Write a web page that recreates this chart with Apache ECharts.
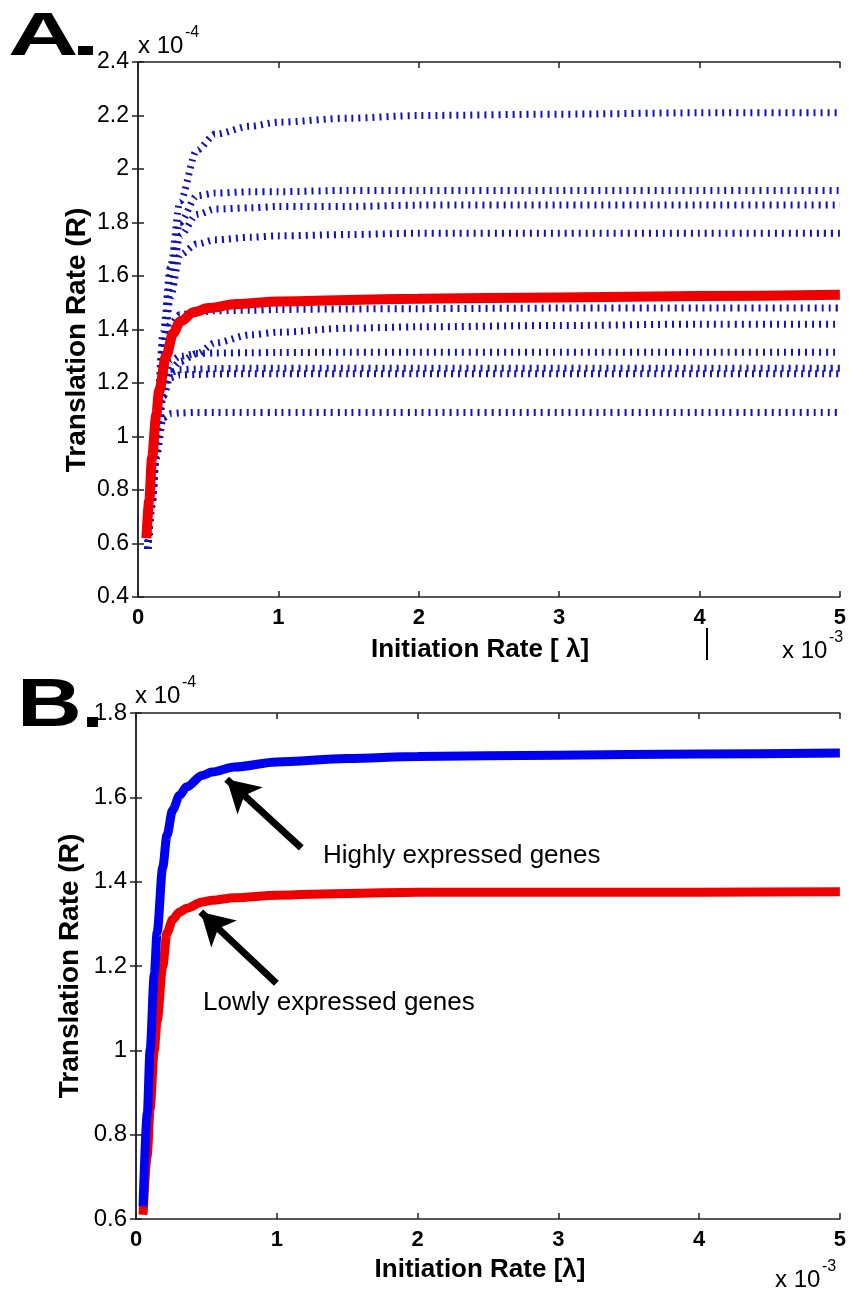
<!DOCTYPE html>
<html>
<head>
<meta charset="utf-8">
<script src="https://cdn.jsdelivr.net/npm/echarts@6/dist/echarts.min.js"></script>
<style>
  html, body { margin: 0; padding: 0; background: #fff; }
  #chart { width: 849px; height: 1290px; }
</style>
</head>
<body>
<div id="chart"></div>
<script>
// x values in units of 1e-3, y values in units of 1e-4

// panel A
const xA = [0.07, 0.1, 0.13, 0.18, 0.23, 0.3, 0.42, 0.55, 0.8, 1, 1.5, 2, 3, 4, 5]
const blueA1 = [0.58, 0.8, 1.07, 1.39, 1.63, 1.88, 2.07, 2.13, 2.16, 2.175, 2.19, 2.2, 2.205, 2.21, 2.21]
const blueA2 = [0.58, 0.79, 1.04, 1.35, 1.6, 1.8, 1.9, 1.91, 1.915, 1.915, 1.92, 1.92, 1.92, 1.92, 1.92]
const blueA3 = [0.58, 0.78, 1.02, 1.32, 1.56, 1.75, 1.83, 1.85, 1.855, 1.86, 1.86, 1.865, 1.865, 1.865, 1.865]
const blueA4 = [0.58, 0.78, 1.0, 1.3, 1.52, 1.68, 1.72, 1.735, 1.745, 1.75, 1.755, 1.76, 1.76, 1.76, 1.76]
const blueA5 = [0.58, 0.77, 0.98, 1.27, 1.42, 1.455, 1.465, 1.47, 1.472, 1.475, 1.477, 1.478, 1.48, 1.48, 1.48]
const blueA6 = [0.58, 0.76, 0.96, 1.18, 1.25, 1.28, 1.31, 1.35, 1.38, 1.39, 1.405, 1.41, 1.415, 1.42, 1.42]
const blueA7 = [0.58, 0.76, 0.95, 1.2, 1.28, 1.3, 1.31, 1.312, 1.313, 1.314, 1.315, 1.315, 1.315, 1.315, 1.315]
const blueA8 = [0.58, 0.75, 0.94, 1.18, 1.24, 1.25, 1.252, 1.254, 1.255, 1.255, 1.255, 1.255, 1.255, 1.255, 1.255]
const blueA9 = [0.58, 0.75, 0.93, 1.15, 1.22, 1.23, 1.232, 1.234, 1.235, 1.235, 1.235, 1.235, 1.235, 1.235, 1.235]
const blueA10 = [0.58, 0.74, 0.92, 1.07, 1.085, 1.088, 1.09, 1.09, 1.09, 1.09, 1.09, 1.09, 1.09, 1.09, 1.09]

const xRedA = [0.06, 0.08, 0.1, 0.13, 0.15, 0.2, 0.25, 0.3, 0.4, 0.5, 0.7, 1, 2, 3, 4, 5]
const redA = [0.62, 0.76, 0.92, 1.08, 1.17, 1.3, 1.385, 1.43, 1.465, 1.48, 1.495, 1.505, 1.515, 1.52, 1.525, 1.53]

// panel B
const xB = [0.05, 0.08, 0.1, 0.13, 0.15, 0.19, 0.22, 0.26, 0.31, 0.36, 0.47, 0.54, 0.7, 1, 1.5, 2, 3, 4, 5]
const highB = [0.63, 0.85, 1.0, 1.18, 1.28, 1.435, 1.51, 1.57, 1.605, 1.625, 1.652, 1.66, 1.672, 1.684, 1.692, 1.697, 1.7, 1.703, 1.705]
const lowB = [0.61, 0.75, 0.86, 1.0, 1.07, 1.2, 1.278, 1.31, 1.328, 1.337, 1.352, 1.356, 1.362, 1.368, 1.372, 1.375, 1.375, 1.375, 1.376]

const xTicks = { min: 0, max: 5, interval: 1 }
const yTicksA = { min: 0.4, max: 2.4, interval: 0.2 }
const yTicksB = { min: 0.6, max: 1.8, interval: 0.2 }

const FONT = '"Liberation Sans", Arial, sans-serif'
const BLUE_DOT = '#1212b8'
const RED = '#ee0000'
const BLUE = '#0000f0'

const chart = echarts.init(document.getElementById('chart'))

const pairs = (xs, ys) => xs.map((x, i) => [x, ys[i]])

const axisLine = { show: true, lineStyle: { color: '#222', width: 1.5 } }
const axisTick = { show: true, inside: true, length: 6, lineStyle: { color: '#222', width: 1.5 } }

function xAxes(grid, ticks, labelSize) {
  return [
    {
      type: 'value', gridIndex: grid, position: 'bottom', ...ticks,
      axisLine, axisTick, splitLine: { show: false },
      axisLabel: { fontFamily: FONT, fontWeight: 'bold', fontSize: labelSize, color: '#000', margin: 10 }
    },
    {
      type: 'value', gridIndex: grid, position: 'top', ...ticks,
      axisLine, axisTick, splitLine: { show: false }, axisLabel: { show: false }
    }
  ]
}

function yAxes(grid, ticks, labelSize) {
  return [
    {
      type: 'value', gridIndex: grid, position: 'left', ...ticks,
      axisLine, axisTick, splitLine: { show: false },
      axisLabel: { fontFamily: FONT, fontSize: labelSize, color: '#000', margin: 9 }
    },
    {
      type: 'value', gridIndex: grid, position: 'right', ...ticks,
      axisLine, axisTick, splitLine: { show: false }, axisLabel: { show: false }
    }
  ]
}

const dotted = (ys) => ({
  type: 'line', xAxisIndex: 0, yAxisIndex: 0,
  data: pairs(xA, ys),
  showSymbol: false, smooth: 0.3, smoothMonotone: 'x',
  lineStyle: { color: BLUE_DOT, width: 7, type: [2, 5], cap: 'butt' },
  z: 2
})

const arrowLine = (from, to) => [{ coord: from }, { coord: to }]

const option = {
  animation: false,
  backgroundColor: '#fff',
  grid: [
    { left: 138, top: 62, width: 705, height: 535 },
    { left: 136, top: 713, width: 707, height: 506 }
  ],
  xAxis: [...xAxes(0, xTicks, 22), ...xAxes(1, xTicks, 22)],
  yAxis: [...yAxes(0, yTicksA, 23), ...yAxes(1, yTicksB, 24)],
  series: [
    dotted(blueA1), dotted(blueA2), dotted(blueA3), dotted(blueA4), dotted(blueA5),
    dotted(blueA6), dotted(blueA7), dotted(blueA8), dotted(blueA9), dotted(blueA10),
    {
      type: 'line', xAxisIndex: 0, yAxisIndex: 0,
      data: pairs(xRedA, redA),
      showSymbol: false, smooth: 0.3, smoothMonotone: 'x',
      lineStyle: { color: RED, width: 10 }, z: 3
    },
    {
      type: 'line', xAxisIndex: 2, yAxisIndex: 2,
      data: pairs(xB, lowB),
      showSymbol: false, smooth: 0.3, smoothMonotone: 'x',
      lineStyle: { color: RED, width: 9 }, z: 3
    },
    {
      type: 'line', xAxisIndex: 2, yAxisIndex: 2,
      data: pairs(xB, highB),
      showSymbol: false, smooth: 0.3, smoothMonotone: 'x',
      lineStyle: { color: BLUE, width: 9 }, z: 3,
      markLine: {
        silent: true,
        symbol: ['none', 'arrow'],
        symbolSize: [28, 32],
        label: { show: false },
        lineStyle: { color: '#000', width: 7, type: 'solid' },
        emphasis: { disabled: true },
        data: [
          arrowLine([1.174, 1.48], [0.644, 1.643]),
          arrowLine([0.997, 1.159], [0.46, 1.328])
        ]
      }
    }
  ],
  graphic: [
    // panel letters
    { type: 'text', x: 8, y: 38, scaleX: 1.6, style: { text: 'A', font: 'bold 61px ' + FONT, fill: '#000', textVerticalAlign: 'middle' } },
    { type: 'rect', shape: { x: 78, y: 46, width: 15, height: 9 }, style: { fill: '#000' } },
    { type: 'text', x: 17, y: 707, scaleX: 1.32, style: { text: 'B', font: 'bold 68px ' + FONT, fill: '#000', textVerticalAlign: 'middle' } },
    { type: 'rect', shape: { x: 87, y: 717, width: 11, height: 10 }, style: { fill: '#000' } },

    // exponent labels
    { type: 'text', x: 138, y: 46, style: { text: 'x 10', font: '24px ' + FONT, fill: '#000', textVerticalAlign: 'middle' } },
    { type: 'text', x: 185, y: 33, style: { text: '-4', font: '16px ' + FONT, fill: '#000', textVerticalAlign: 'middle' } },
    { type: 'text', x: 135, y: 696, style: { text: 'x 10', font: '24px ' + FONT, fill: '#000', textVerticalAlign: 'middle' } },
    { type: 'text', x: 182, y: 683, style: { text: '-4', font: '16px ' + FONT, fill: '#000', textVerticalAlign: 'middle' } },
    { type: 'text', x: 782, y: 651, style: { text: 'x 10', font: '24px ' + FONT, fill: '#000', textVerticalAlign: 'middle' } },
    { type: 'text', x: 829, y: 638, style: { text: '-3', font: '16px ' + FONT, fill: '#000', textVerticalAlign: 'middle' } },
    { type: 'text', x: 775, y: 1280, style: { text: 'x 10', font: '24px ' + FONT, fill: '#000', textVerticalAlign: 'middle' } },
    { type: 'text', x: 822, y: 1267, style: { text: '-3', font: '16px ' + FONT, fill: '#000', textVerticalAlign: 'middle' } },

    // stray mark under tick 4 in panel A
    { type: 'line', shape: { x1: 707, y1: 628, x2: 707, y2: 660 }, style: { stroke: '#000', lineWidth: 2 } },

    // axis titles
    { type: 'text', x: 480, y: 650, style: { text: 'Initiation Rate [ \u03bb]', font: 'bold 26px ' + FONT, fill: '#000', textAlign: 'center', textVerticalAlign: 'middle' } },
    { type: 'text', x: 480, y: 1270, style: { text: 'Initiation Rate [\u03bb]', font: 'bold 26px ' + FONT, fill: '#000', textAlign: 'center', textVerticalAlign: 'middle' } },
    { type: 'text', x: 77, y: 340, rotation: Math.PI / 2, style: { text: 'Translation Rate (R)', font: 'bold 28px ' + FONT, fill: '#000', textAlign: 'center', textVerticalAlign: 'middle' } },
    { type: 'text', x: 70, y: 966, rotation: Math.PI / 2, style: { text: 'Translation Rate (R)', font: 'bold 28px ' + FONT, fill: '#000', textAlign: 'center', textVerticalAlign: 'middle' } },

    // annotations
    { type: 'text', x: 323, y: 856, style: { text: 'Highly expressed genes', font: '26px ' + FONT, fill: '#000', textVerticalAlign: 'middle' } },
    { type: 'text', x: 203, y: 1003, style: { text: 'Lowly expressed genes', font: '26px ' + FONT, fill: '#000', textVerticalAlign: 'middle' } }
  ]
}

chart.setOption(option)
</script>
</body>
</html>
